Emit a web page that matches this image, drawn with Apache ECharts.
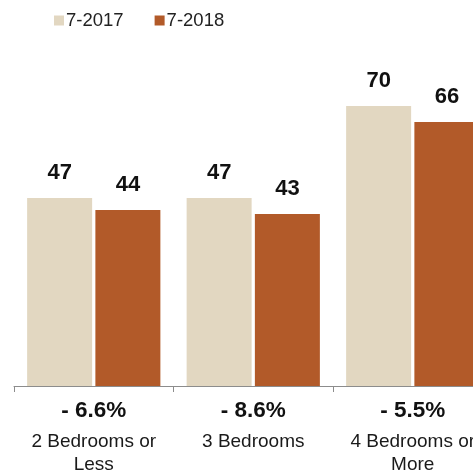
<!DOCTYPE html>
<html>
<head>
<meta charset="utf-8">
<script src="https://cdn.jsdelivr.net/npm/echarts@6/dist/echarts.min.js"></script>
<style>
  html, body { margin: 0; padding: 0; background: #fff; }
  #chart { width: 473px; height: 475px; }
</style>
</head>
<body>
<div id="chart"></div>
<script>
// Median home size data by bedroom count, July 2017 vs July 2018
const categories = ['2 Bedrooms or\nLess', '3 Bedrooms', '4 Bedrooms or\nMore'];
const changeLabels = ['- 6.6%', '- 8.6%', '- 5.5%'];
const seriesNames = ['7-2017', '7-2018'];
const values2017 = [47, 47, 70];
const values2018 = [44, 43, 66];

const FONT = '"Liberation Sans", Arial, Helvetica, sans-serif';
const chart = echarts.init(document.getElementById('chart'), null, { renderer: 'canvas' });

const valueLabel = {
  show: true,
  position: 'top',
  distance: 14,
  fontFamily: FONT,
  fontSize: 22,
  fontWeight: 'bold',
  color: '#111'
};

chart.setOption({
  animation: false,
  backgroundColor: '#ffffff',
  legend: {
    data: seriesNames,
    left: 49,
    top: 6,
    icon: 'rect',
    itemWidth: 10,
    itemHeight: 10,
    itemGap: 31,
    textStyle: { fontFamily: FONT, fontSize: 18.5, color: '#222', padding: [0, 0, 0, -3] }
  },
  grid: {
    left: 14,
    right: -19.5,
    top: 66,
    bottom: 89,
    containLabel: false,
    outerBoundsMode: 'none'
  },
  xAxis: {
    type: 'category',
    data: categories,
    axisLine: { show: true, lineStyle: { color: '#8c8c8c', width: 1 } },
    axisTick: { show: true, length: 6, lineStyle: { color: '#8c8c8c' } },
    axisLabel: {
      margin: 6,
      interval: 0,
      formatter: function (value, idx) {
        const lines = value.split('\n').map(function (s) { return '{n|' + s + '}'; });
        return '{p|' + changeLabels[idx] + '}\n' + lines.join('\n');
      },
      rich: {
        p: { fontFamily: FONT, fontSize: 22.5, fontWeight: 'bold', color: '#111', lineHeight: 38 },
        n: { fontFamily: FONT, fontSize: 19, color: '#1a1a1a', lineHeight: 23.5 }
      }
    }
  },
  yAxis: {
    type: 'value',
    min: 0,
    max: 80,
    show: false,
    splitLine: { show: false }
  },
  series: [
    {
      name: seriesNames[0],
      type: 'bar',
      data: values2017,
      barWidth: 65,
      barGap: '5%',
      itemStyle: { color: '#e2d7c1' },
      label: valueLabel
    },
    {
      name: seriesNames[1],
      type: 'bar',
      data: values2018,
      barWidth: 65,
      barGap: '5%',
      itemStyle: { color: '#b25a29' },
      label: valueLabel
    }
  ]
});
</script>
</body>
</html>
